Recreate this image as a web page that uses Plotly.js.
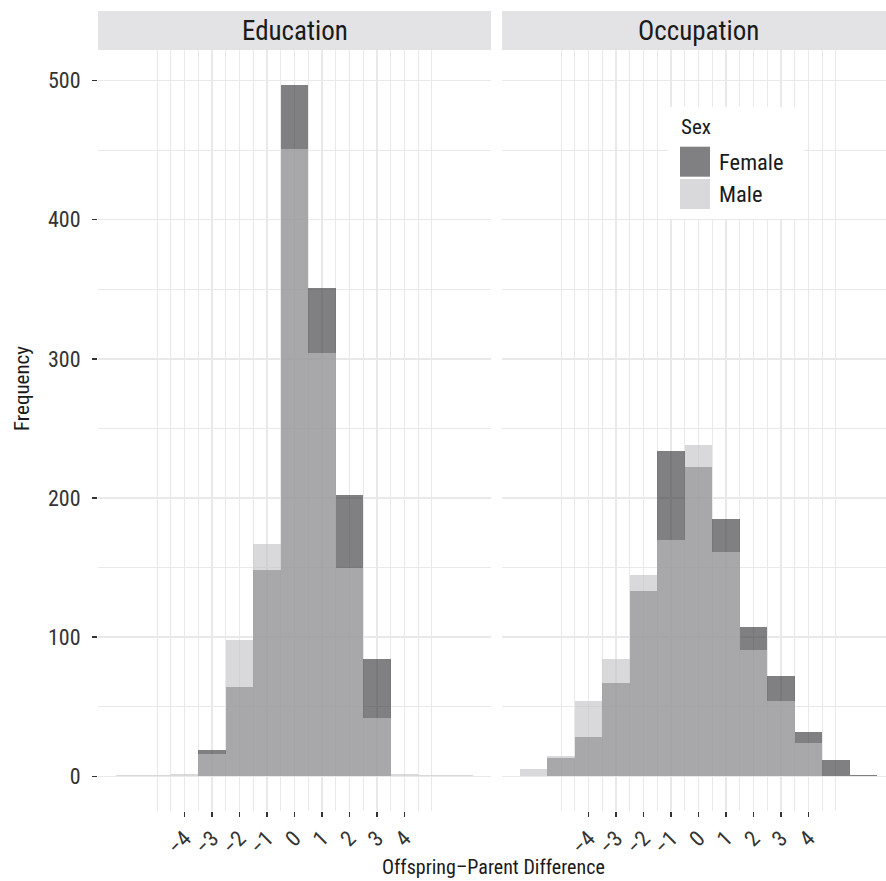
<!DOCTYPE html>
<html>
<head>
<meta charset="utf-8">
<script src="https://cdn.plot.ly/plotly-3.0.1.min.js"></script>
<style>html,body{margin:0;padding:0;background:#fff;}#chart{width:886px;height:881px;}</style>
</head>
<body>
<div id="chart"></div>
<script>
// ---- data ----
const bins = [-6, -5, -4, -3, -2, -1, 0, 1, 2, 3, 4, 5, 6];
const eduFemale = [0, 0, 0, 19, 64, 148, 497, 351, 202, 84, 0, 0, 0];
const eduMale   = [1, 1, 2, 16, 98, 167, 451, 304, 150, 42, 2, 1, 1];
const occFemale = [0, 13, 28, 67, 133, 234, 222, 185, 107, 72, 32, 12, 1];
const occMale   = [5, 15, 54, 84, 145, 170, 238, 161, 91, 54, 24, 0, 0];
const panels = ["Education", "Occupation"];
const sexes = ["Female", "Male"];
const xTicks = [-4, -3, -2, -1, 0, 1, 2, 3, 4];
const xTickText = ["\u22124", "\u22123", "\u22122", "\u22121", "0", "1", "2", "3", "4"];
const xMinor = [-5, -4.5, -3.5, -2.5, -1.5, -0.5, 0.5, 1.5, 2.5, 3.5, 4.5, 5];
const yTicks = [0, 100, 200, 300, 400, 500];
const yMinor = [50, 150, 250, 350, 450];

const FONT = "'Roboto Condensed', 'Noto Sans Condensed', 'Open Sans Condensed', 'DejaVu Sans Condensed', sans-serif";
const fillFemale = "rgba(48,48,52,0.614)";
const fillMale = "rgba(193,194,197,0.614)";
const grid = "#e9e9e9";

function bar(y, color, xa, ya, name) {
  return { type: "bar", x: bins, y: y, width: 1, name: name,
    marker: { color: color, line: { width: 0 } },
    xaxis: xa, yaxis: ya, showlegend: false, hoverinfo: "x+y+name" };
}

const traces = [
  bar(eduFemale, fillFemale, "x", "y", sexes[0]),
  bar(eduMale, fillMale, "x", "y", sexes[1]),
  bar(occFemale, fillFemale, "x2", "y2", sexes[0]),
  bar(occMale, fillMale, "x2", "y2", sexes[1])
];

const W = 886, H = 881, L = 98, R = 0, T = 50, B = 70;
const pw = W - L - R, ph = H - T - B;
const px = v => (v - L) / pw;
const py = v => (H - B - v) / ph;

function xaxis(domain, range, anchor) {
  return { domain: domain, range: range, anchor: anchor,
    tickmode: "array", tickvals: xTicks, ticktext: xTickText, tickangle: -45,
    ticks: "outside", ticklen: 5, tickwidth: 1.5, tickcolor: "#333",
    tickfont: { family: FONT, size: 22, color: "#333" },
    showgrid: true, gridcolor: grid, gridwidth: 1.5,
    minor: { tickvals: xMinor, showgrid: true, gridcolor: grid, gridwidth: 1, ticks: "" },
    zeroline: false, showline: false, fixedrange: true };
}
function yaxis(anchor, labels) {
  return { anchor: anchor, range: [-24.85, 521.85], domain: [0, 1],
    tickmode: "array", tickvals: yTicks, showticklabels: labels,
    ticks: labels ? "outside" : "", ticklen: 5, tickwidth: 1.5, tickcolor: "#333",
    ticklabelstandoff: 7,
    tickfont: { family: FONT, size: 22, color: "#333" },
    showgrid: true, gridcolor: grid, gridwidth: 1.5,
    minor: { tickvals: yMinor, showgrid: true, gridcolor: grid, gridwidth: 1, ticks: "" },
    zeroline: false, showline: false, fixedrange: true };
}

const stripTop = 1 + 39 / ph;
const stripMid = 1 + 19.5 / ph;

const layout = {
  width: W, height: H,
  margin: { l: L, r: R, t: T, b: B, pad: 0 },
  paper_bgcolor: "#fff", plot_bgcolor: "#fff",
  barmode: "overlay", bargap: 0,
  showlegend: false,
  font: { family: FONT, color: "#222" },
  xaxis: xaxis([0, px(491)], [-7.15, 7.15], "y"),
  xaxis2: xaxis([px(502), 1], [-7.15, 6.82], "y2"),
  yaxis: yaxis("x", true),
  yaxis2: yaxis("x2", false),
  shapes: [
    { type: "rect", xref: "x domain", yref: "paper", x0: 0, x1: 1, y0: 1, y1: stripTop,
      fillcolor: "#e3e3e5", line: { width: 0 }, layer: "above" },
    { type: "rect", xref: "x2 domain", yref: "paper", x0: 0, x1: 1, y0: 1, y1: stripTop,
      fillcolor: "#e3e3e5", line: { width: 0 }, layer: "above" },
    // legend box and keys
    { type: "rect", xref: "paper", yref: "paper", x0: px(668), x1: px(804), y0: py(219), y1: py(107),
      fillcolor: "#ffffff", line: { width: 0 }, layer: "above" },
    { type: "rect", xref: "paper", yref: "paper", x0: px(680), x1: px(710), y0: py(176.7), y1: py(146.7),
      fillcolor: fillFemale, line: { width: 0 }, layer: "above" },
    { type: "rect", xref: "paper", yref: "paper", x0: px(680), x1: px(710), y0: py(209), y1: py(179),
      fillcolor: fillMale, line: { width: 0 }, layer: "above" }
  ],
  annotations: [
    { text: panels[0], xref: "x", yref: "paper", x: 0, y: stripMid, xanchor: "center", yanchor: "middle",
      showarrow: false, font: { family: FONT, size: 27, color: "#1a1a1a" } },
    { text: panels[1], xref: "x2", yref: "paper", x: 0, y: stripMid, xanchor: "center", yanchor: "middle",
      showarrow: false, font: { family: FONT, size: 27, color: "#1a1a1a" } },
    { text: "Offspring\u2013Parent Difference", xref: "paper", yref: "paper", x: px(494), y: py(867),
      xanchor: "center", yanchor: "middle", showarrow: false, font: { family: FONT, size: 20, color: "#1a1a1a" } },
    { text: "Frequency", xref: "paper", yref: "paper", x: px(22), y: py(389), textangle: -90,
      xanchor: "center", yanchor: "middle", showarrow: false, font: { family: FONT, size: 21, color: "#1a1a1a" } },
    { text: "Sex", xref: "paper", yref: "paper", x: px(679), y: py(127), xanchor: "left", yanchor: "middle",
      showarrow: false, font: { family: FONT, size: 21, color: "#1a1a1a" } },
    { text: sexes[0], xref: "paper", yref: "paper", x: px(717), y: py(162), xanchor: "left", yanchor: "middle",
      showarrow: false, font: { family: FONT, size: 22.5, color: "#1a1a1a" } },
    { text: sexes[1], xref: "paper", yref: "paper", x: px(717), y: py(194), xanchor: "left", yanchor: "middle",
      showarrow: false, font: { family: FONT, size: 22.5, color: "#1a1a1a" } }
  ]
};

Plotly.newPlot("chart", traces, layout, { staticPlot: true, displayModeBar: false });
</script>
</body>
</html>
